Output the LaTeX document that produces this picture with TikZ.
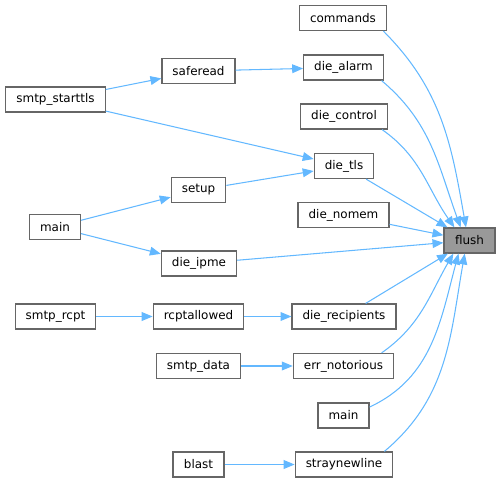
\documentclass[tikz,border=0pt]{standalone}
\usepackage{fontspec}
\setmainfont{DejaVu Sans}
\usepackage{xcolor}
\usetikzlibrary{arrows.meta}

\definecolor{callblue}{HTML}{63B8FF}
\definecolor{boxgray}{HTML}{666666}
\definecolor{flushgray}{HTML}{999999}

\begin{document}
\begin{tikzpicture}[>={Triangle[length=6.2pt,width=5pt]},
    fn/.style={draw=boxgray, line width=0.7pt, fill=white, minimum height=0.5cm,
        minimum width=1.02cm, inner xsep=6pt, inner ysep=0pt,
        font=\fontsize{6.8}{8}\selectfont},
    calls/.style={->, draw=callblue, line width=0.6pt}]
    \useasboundingbox (0,0) rectangle (10,9.66);

    % 1. Hàm đích
    \node[fn, fill=flushgray] (flush) at (9.39,4.85) {flush};

    % 2. Cột các hàm gọi trực tiếp
    \node[fn] (commands) at (6.86,9.30) {commands};
    \node[fn] (diealarm) at (6.87,8.31) {die\_alarm};
    \node[fn] (diecontrol) at (6.88,7.33) {die\_control};
    \node[fn] (dietls) at (6.88,6.34) {die\_tls};
    \node[fn] (dienomem) at (6.87,5.36) {die\_nomem};
    \node[fn] (dierecipients) at (6.88,3.33) {die\_recipients};
    \node[fn] (errnotorious) at (6.87,2.34) {err\_notorious};
    \node[fn] (mainb) at (6.87,1.35) {main};
    \node[fn] (straynewline) at (6.88,0.37) {straynewline};

    % 3. Cột giữa
    \node[fn] (saferead) at (3.97,8.24) {saferead};
    \node[fn] (setup) at (3.97,5.86) {setup};
    \node[fn] (dieipme) at (3.98,4.39) {die\_ipme};
    \node[fn] (rcptallowed) at (3.97,3.33) {rcptallowed};
    \node[fn] (smtpdata) at (3.97,2.34) {smtp\_data};
    \node[fn] (blast) at (3.97,0.37) {blast};

    % 4. Cột trái
    \node[fn] (smtpstarttls) at (1.11,7.67) {smtp\_starttls};
    \node[fn] (maina) at (1.10,5.12) {main};
    \node[fn] (smtprcpt) at (1.11,3.33) {smtp\_rcpt};

    % 5. Các mũi tên vào flush
    \draw[calls] (commands.-18) to[out=-45, in=100] (flush.105.6);
    \draw[calls] (diealarm.-19) to[out=-40, in=110] (flush.124);
    \draw[calls] (diecontrol.-19) to[out=-35, in=125] (flush.139);
    \draw[calls] (dietls) -- (flush);
    \draw[calls] (dienomem) -- (flush);
    \draw[calls] (dieipme) -- (flush);
    \draw[calls] (dierecipients) -- (flush);
    \draw[calls] (errnotorious.19) to[out=35, in=-120] (flush.-141);
    \draw[calls] (mainb.18) to[out=25, in=-105] (flush.-130);
    \draw[calls] (straynewline.18) to[out=40, in=-100] (flush.-110);

    % 6. Các mũi tên còn lại
    \draw[calls] (saferead) -- (diealarm);
    \draw[calls] (smtpstarttls) -- (saferead);
    \draw[calls] (smtpstarttls) -- (dietls);
    \draw[calls] (setup) -- (dietls);
    \draw[calls] (maina) -- (setup);
    \draw[calls] (maina) -- (dieipme);
    \draw[calls] (smtprcpt) -- (rcptallowed);
    \draw[calls] (rcptallowed) -- (dierecipients);
    \draw[calls] (smtpdata) -- (errnotorious);
    \draw[calls] (blast) -- (straynewline);

\end{tikzpicture}
\end{document}
